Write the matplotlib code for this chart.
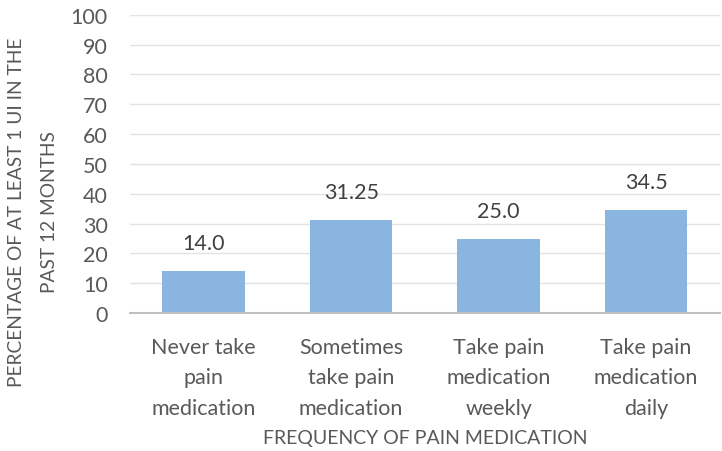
import matplotlib.pyplot as plt

categories = ['Never take\npain\nmedication', 'Sometimes\ntake pain\nmedication',
              'Take pain\nmedication\nweekly', 'Take pain\nmedication\ndaily']
values = [14.0, 31.25, 25.0, 34.5]
value_labels = ['14.0', '31.25', '25.0', '34.5']

plt.rcParams['font.family'] = ['Lato', 'DejaVu Sans']
text_color = '#595959'

fig = plt.figure(figsize=(7.22, 4.52), dpi=100)
ax = fig.add_axes([0.18, 0.305, 0.817, 0.66])

x = range(len(categories))
bars = ax.bar(x, values, width=0.56, color='#8AB5E1', zorder=2)
for b, lab in zip(bars, value_labels):
    ax.text(b.get_x() + b.get_width() / 2, b.get_height() + 6, lab,
            ha='center', va='bottom', fontsize=15.5, color='#404040')

ax.set_ylim(0, 100)
ax.set_xlim(-0.5, len(categories) - 0.5)
ax.set_yticks(range(0, 101, 10))
ax.yaxis.grid(True, color='#E3E3E3', linewidth=1, zorder=0)
ax.set_axisbelow(True)
for s in ['top', 'right', 'left']:
    ax.spines[s].set_visible(False)
ax.spines['bottom'].set_color('#BFBFBF')
ax.spines['bottom'].set_linewidth(1.5)
ax.tick_params(axis='y', length=0, labelsize=15.5, colors=text_color, pad=16)
ax.tick_params(axis='x', length=0, labelsize=15.5, colors=text_color, pad=17)
ax.set_xticks(list(x))
ax.set_xticklabels(categories, linespacing=1.65)

ax.set_xlabel('FREQUENCY OF PAIN MEDICATION', fontsize=14, color=text_color, labelpad=8)
fig.text(33 / 722, 1 - 212 / 452, 'PERCENTAGE OF AT LEAST 1 UI IN THE\nPAST 12 MONTHS',
         rotation=90, ha='center', va='center', fontsize=13.8, color=text_color,
         linespacing=2.1, multialignment='center')

fig.savefig('out.png', dpi=100)
